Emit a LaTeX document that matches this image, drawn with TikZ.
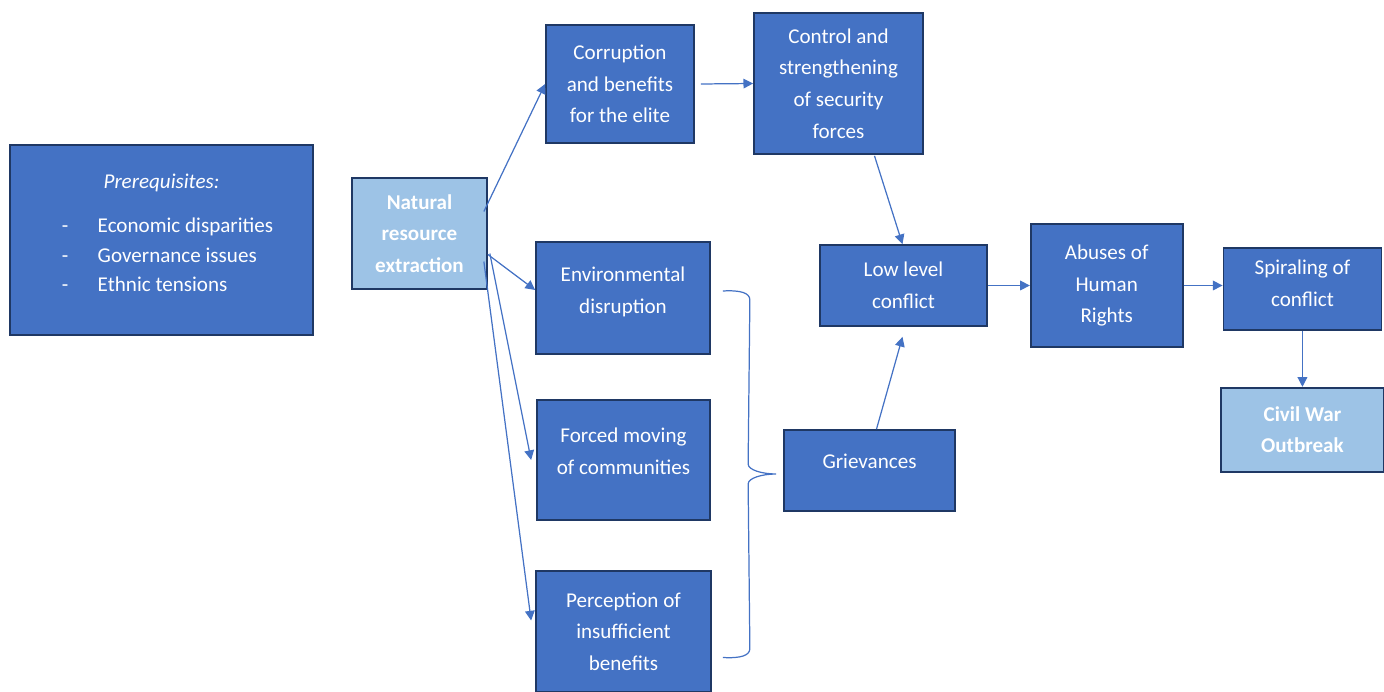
\documentclass[tikz,border=0pt]{standalone}
\usepackage{fontspec}
\setmainfont{Carlito}
\usetikzlibrary{positioning, calc, arrows.meta}
\definecolor{boxblue}{HTML}{4472C4}
\definecolor{lightblue}{HTML}{9DC3E6}
\definecolor{edgeblue}{HTML}{1F3864}
\newcommand{\lift}[2]{\begin{tabular}{@{}c@{}}#2\\[#1]\end{tabular}}

\begin{document}
\begin{tikzpicture}[
    x=0.02cm, y=-0.02cm,
    box/.style={rectangle, inner sep=0pt, align=center, draw=edgeblue, line width=1pt, fill=boxblue, text=white, font=\fontsize{12}{18}\selectfont},
    lbox/.style={box, fill=lightblue, font=\fontsize{12}{18}\selectfont\bfseries},
    arrow/.style={boxblue, line width=0.7pt, -{Triangle[length=5.5pt, width=5.5pt]}},
    curly/.style={boxblue, line width=0.7pt}
]
\useasboundingbox (0,0) rectangle (1384,692);
\node (pre) [box, minimum width=6.06cm, minimum height=3.8cm, font=\fontsize{12}{16.7}\selectfont] at (161.5,240) {%
  \begin{tabular}{@{\hspace{0.24cm}}l@{\hspace{0.59cm}}l@{}}
  \multicolumn{2}{@{}c@{}}{\textit{Prerequisites:}}\\[8.5pt]
  - & Economic disparities\\
  - & Governance issues\\
  - & Ethnic tensions\\[0.24cm]
  \end{tabular}};
\node (nat) [lbox, minimum width=2.7cm, minimum height=2.22cm] at (419.5,233.5) {Natural\\resource\\extraction};
\node (cor) [box, minimum width=2.96cm, minimum height=2.36cm] at (620,84) {Corruption\\and benefits\\for the elite};
\node (ctrl) [box, minimum width=3.38cm, minimum height=2.82cm] at (838.5,83.5) {Control and\\strengthening\\of security\\forces};
\node (env) [box, minimum width=3.48cm, minimum height=2.24cm] at (623,298) {\lift{0.28cm}{Environmental\\disruption}};
\node (frc) [box, minimum width=3.46cm, minimum height=2.4cm] at (623.5,460) {\lift{0.32cm}{Forced moving\\of communities}};
\node (perc) [box, minimum width=3.5cm, minimum height=2.42cm] at (623.5,631.5) {Perception of\\insufficient\\benefits};
\node (grv) [box, minimum width=3.42cm, minimum height=1.62cm] at (869.5,470.5) {\lift{0.32cm}{Grievances}};
\node (low) [box, minimum width=3.34cm, minimum height=1.62cm] at (903.5,285.5) {Low level\\conflict};
\node (abu) [box, minimum width=3.04cm, minimum height=2.46cm, right=0.84cm of low] {Abuses of\\Human\\Rights};
\node (spi) [box, minimum width=3.16cm, minimum height=1.64cm, right=0.78cm of abu, yshift=-0.07cm] {\lift{0.2cm}{Spiraling of\\conflict}};
\node (civ) [lbox, minimum width=3.26cm, minimum height=1.68cm, below=1.12cm of spi] {Civil War\\Outbreak};
\draw [arrow] ([shift={(-4,-22)}]nat.east) -- (cor.west);
\draw [arrow] ([shift={(0,21)}]nat.east) -- ([shift={(0,-8)}]env.west);
\draw [arrow] ([shift={(2,20)}]nat.east) -- ([shift={(-5,0)}]frc.west);
\draw [arrow] ([shift={(-4,28)}]nat.east) -- ([shift={(-4,-11)}]perc.west);
\draw [arrow] ([shift={(6,0)}]cor.east) -- (ctrl.west);
\draw [arrow] ([shift={(36,1)}]ctrl.south) -- ([shift={(-1,0)}]low.north);
\draw [arrow] ([shift={(7,0)}]grv.north) -- ([shift={(-1,10)}]low.south);
\draw [arrow] (low.east) -- (abu.west);
\draw [arrow] (abu.east) -- (abu.east -| spi.west);
\draw [arrow] (spi.south) -- (civ.north);
\coordinate (btop) at ([shift={(12,-7)}]env.east);
\coordinate (bbot) at ([shift={(11,26)}]perc.east);
\coordinate (btip) at ([shift={(-7,3.5)}]grv.west);
\draw [curly] (btop) .. controls +(18,-1) and +(0,-7) .. ([shift={(27,9)}]btop)
  -- ([shift={(-28,-10)}]btip) .. controls +(0,6) and +(-14,0) .. (btip)
  .. controls +(-14,0) and +(0,-6) .. ([shift={(-28,10)}]btip)
  -- ([shift={(27,-9)}]bbot) .. controls +(0,7) and +(18,1) .. (bbot);
\end{tikzpicture}
\end{document}
